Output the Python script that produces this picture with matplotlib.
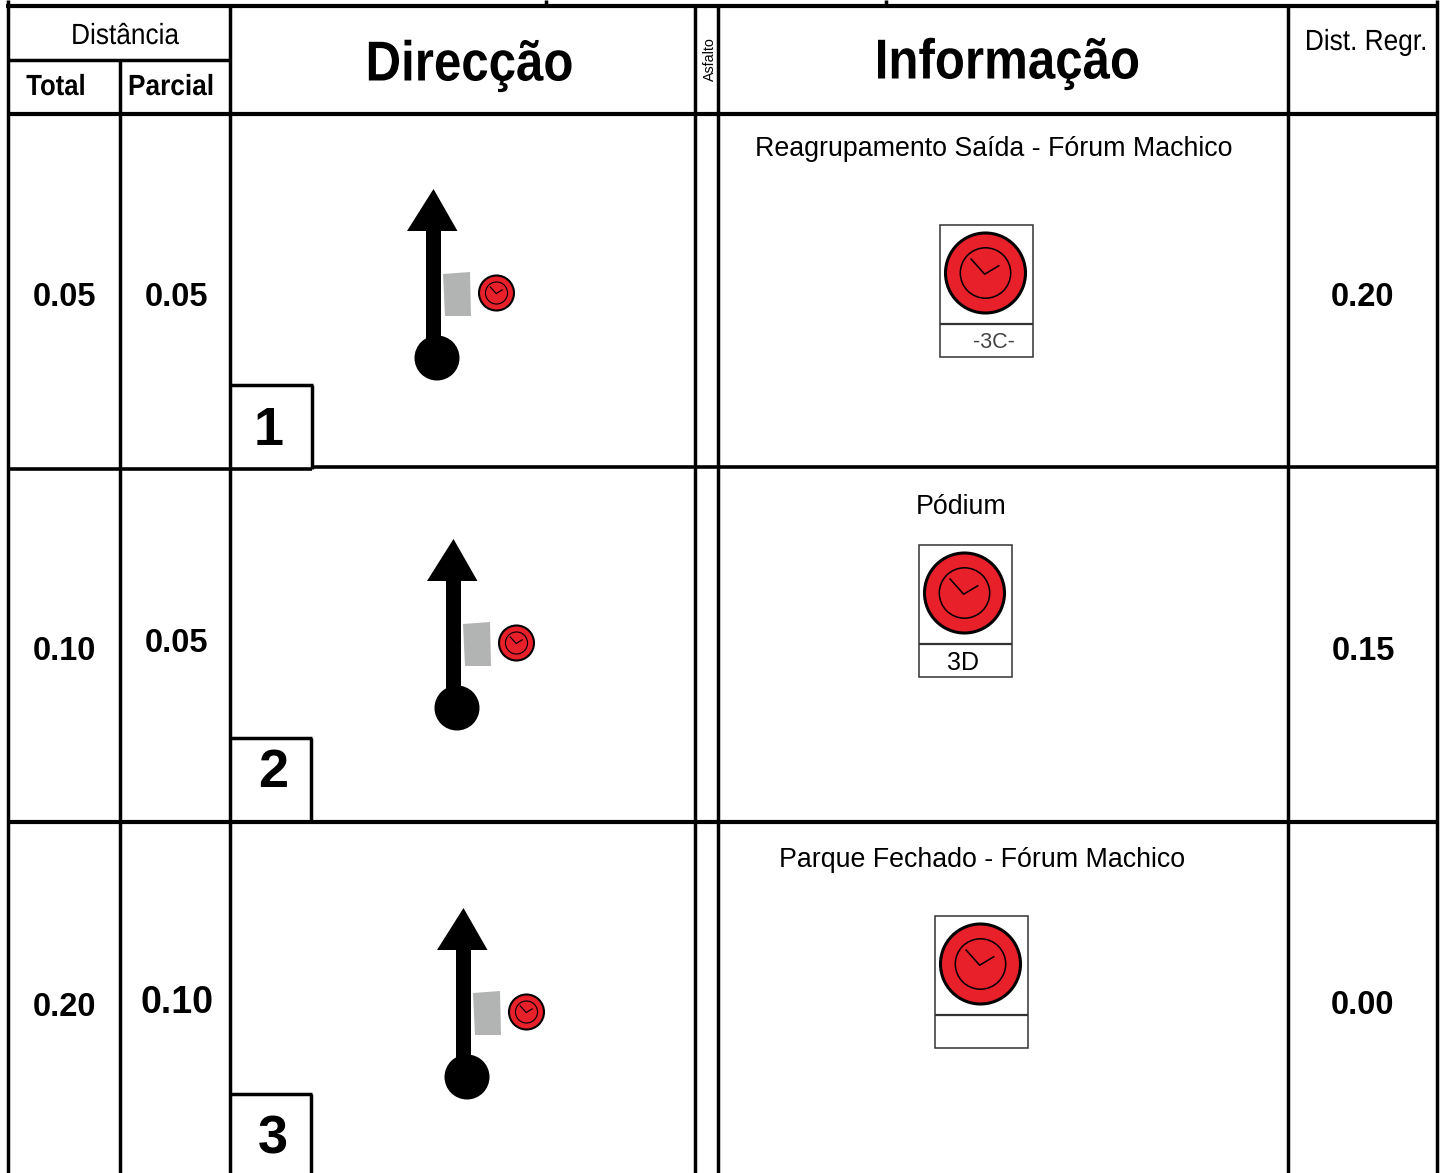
import numpy as np
import matplotlib.pyplot as plt
from matplotlib.patches import Circle, Polygon, Rectangle
from matplotlib.patheffects import AbstractPathEffect
from matplotlib.transforms import Affine2D

W, H = 1445, 1173

total = ["0.05", "0.10", "0.20"]
parcial = ["0.05", "0.05", "0.10"]
regr = ["0.20", "0.15", "0.00"]
info = ["Reagrupamento Saída - Fórum Machico", "Pódium", "Parque Fechado - Fórum Machico"]
codes = ["-3C-", "3D", ""]
numbers = ["1", "2", "3"]

RED = "#e8202a"
GREY = "#b2b3b3"

fig = plt.figure(figsize=(W/100, H/100), dpi=100)
ax = fig.add_axes([0, 0, 1, 1])
ax.set_xlim(0, W)
ax.set_ylim(H, 0)
ax.axis("off")

#no narrow font installed, so squeeze the glyphs sideways round the text centre
class Squeeze(AbstractPathEffect):
	def __init__(self, cx, sx):
		super().__init__()
		self.cx = cx
		self.sx = sx
	def draw_path(self, renderer, gc, tpath, affine, rgbFace=None):
		t = affine + Affine2D().translate(-self.cx, 0).scale(self.sx, 1).translate(self.cx, 0)
		renderer.draw_path(gc, tpath, t, rgbFace)

def line(x0, y0, x1, y1, lw=2.5, c="black"):
	ax.plot([x0, x1], [y0, y1], color=c, lw=lw, solid_capstyle="butt", zorder=3)

def txt(x, y, s, size, weight="normal", sx=None, **kw):
	t = ax.text(x, y, s, fontsize=size, fontweight=weight, family="Liberation Sans", ha="center", va="center", zorder=5, **kw)
	if sx:
		t.set_path_effects([Squeeze(x, sx)])

def clock(cx, cy, r, ring, thin):
	ax.add_patch(Circle((cx, cy), r, fc=RED, ec="black", lw=ring, zorder=4))
	ax.add_patch(Circle((cx, cy), r*0.63, fc="none", ec="black", lw=thin, zorder=4))
	ax.plot([cx-r*0.36, cx-r*0.02, cx+r*0.33], [cy-r*0.35, cy+r*0.03, cy-r*0.18], color="black", lw=thin, zorder=5)

# frame
line(8, 0, 8, H)
line(6, 6, 1439, 6, 3)
line(546, 0, 546, 6)
line(886, 0, 886, 6)
for x in [695, 718, 1288]:
	line(x, 6, x, H)
line(1437, 0, 1437, H)
line(230, 6, 230, H)
line(119.5, 60, 119.5, H)
line(8, 60, 230, 60)
line(8, 113.5, 1437, 113.5, 3)
line(8, 469, 312, 469, 2.6)
line(312, 467, 1437, 467, 2.6)
line(8, 822, 1437, 822, 3)

# headers
txt(125, 36, "Distância", 21, sx=0.9)
txt(56, 87, "Total", 21, "bold", sx=0.88)
txt(171, 87, "Parcial", 21, "bold", sx=0.9)
txt(469.5, 66.5, "Direcção", 40.5, "bold", sx=0.875)
txt(1007.5, 64.5, "Informação", 40.5, "bold", sx=0.875)
txt(710, 59.5, "Asfalto", 10.3, rotation=90)
txt(1366, 42, "Dist. Regr.", 21, sx=0.9)

# rows
x_total = [64.5, 64.5, 64.5]
y_total = [298, 652, 1007]
x_parcial = [176, 176, 177]
y_parcial = [298, 643, 1003]
s_parcial = [23.5, 23.5, 27]
y_regr = [298, 651, 1006]
for i in range(3):
	txt(x_total[i], y_total[i], total[i], 23.5, "bold")
	txt(x_parcial[i], y_parcial[i], parcial[i], s_parcial[i], "bold")
	txt(1363, y_regr[i], regr[i], 23.5, "bold")

# row number boxes
box_top = [385, 738, 1094]
box_right = [312, 311, 311]
box_bottom = [469, 822, H]
num_x = [269, 273, 273]
num_y = [431, 773, 1140]
for i in range(3):
	line(229, box_top[i], box_right[i]+1, box_top[i])
	line(box_right[i], box_top[i], box_right[i], box_bottom[i])
	txt(num_x[i], num_y[i], numbers[i], 39, "bold")

# arrows
arrow_x = [433, 453, 463]
arrow_tip = [190, 540, 909]
for i in range(3):
	ax_, t = arrow_x[i], arrow_tip[i]
	ax.add_patch(Polygon([[ax_-26, t+41], [ax_+0.5, t-1], [ax_+24.5, t+41]], fc="black", ec="none", zorder=4))
	ax.add_patch(Rectangle((ax_-7.5, t+39), 15, 120, fc="black", ec="none", zorder=4))
	ax.add_patch(Circle((ax_+4, t+168), 22.5, fc="black", ec="none", zorder=4))
	ax.add_patch(Polygon([[ax_+10, t+84], [ax_+37, t+82], [ax_+38, t+126], [ax_+12, t+126]], fc=GREY, ec="none", zorder=4))
	clock(ax_+63.5, t+103, 17.5, 1.5, 0.8)

# info text and clock cards
info_x = [994, 961, 982]
info_y = [149, 507, 860]
card_x = [940, 919, 935]
card_y = [225, 545, 916]
for i in range(3):
	txt(info_x[i], info_y[i], info[i], 19.25)
	x0, y0 = card_x[i], card_y[i]
	ax.add_patch(Rectangle((x0, y0), 93, 132, fc="white", ec="#333333", lw=1.1, zorder=3))
	line(x0, y0+99, x0+93, y0+99, 1.6, "#333333")
	clock(x0+45.5, y0+48, 40, 2.2, 1.1)
	txt(x0+(54 if i == 0 else 44), y0+118, codes[i], 15.5 if i == 0 else 18, color="#444444" if i == 0 else "black")

fig.savefig("out.png", dpi=100)
